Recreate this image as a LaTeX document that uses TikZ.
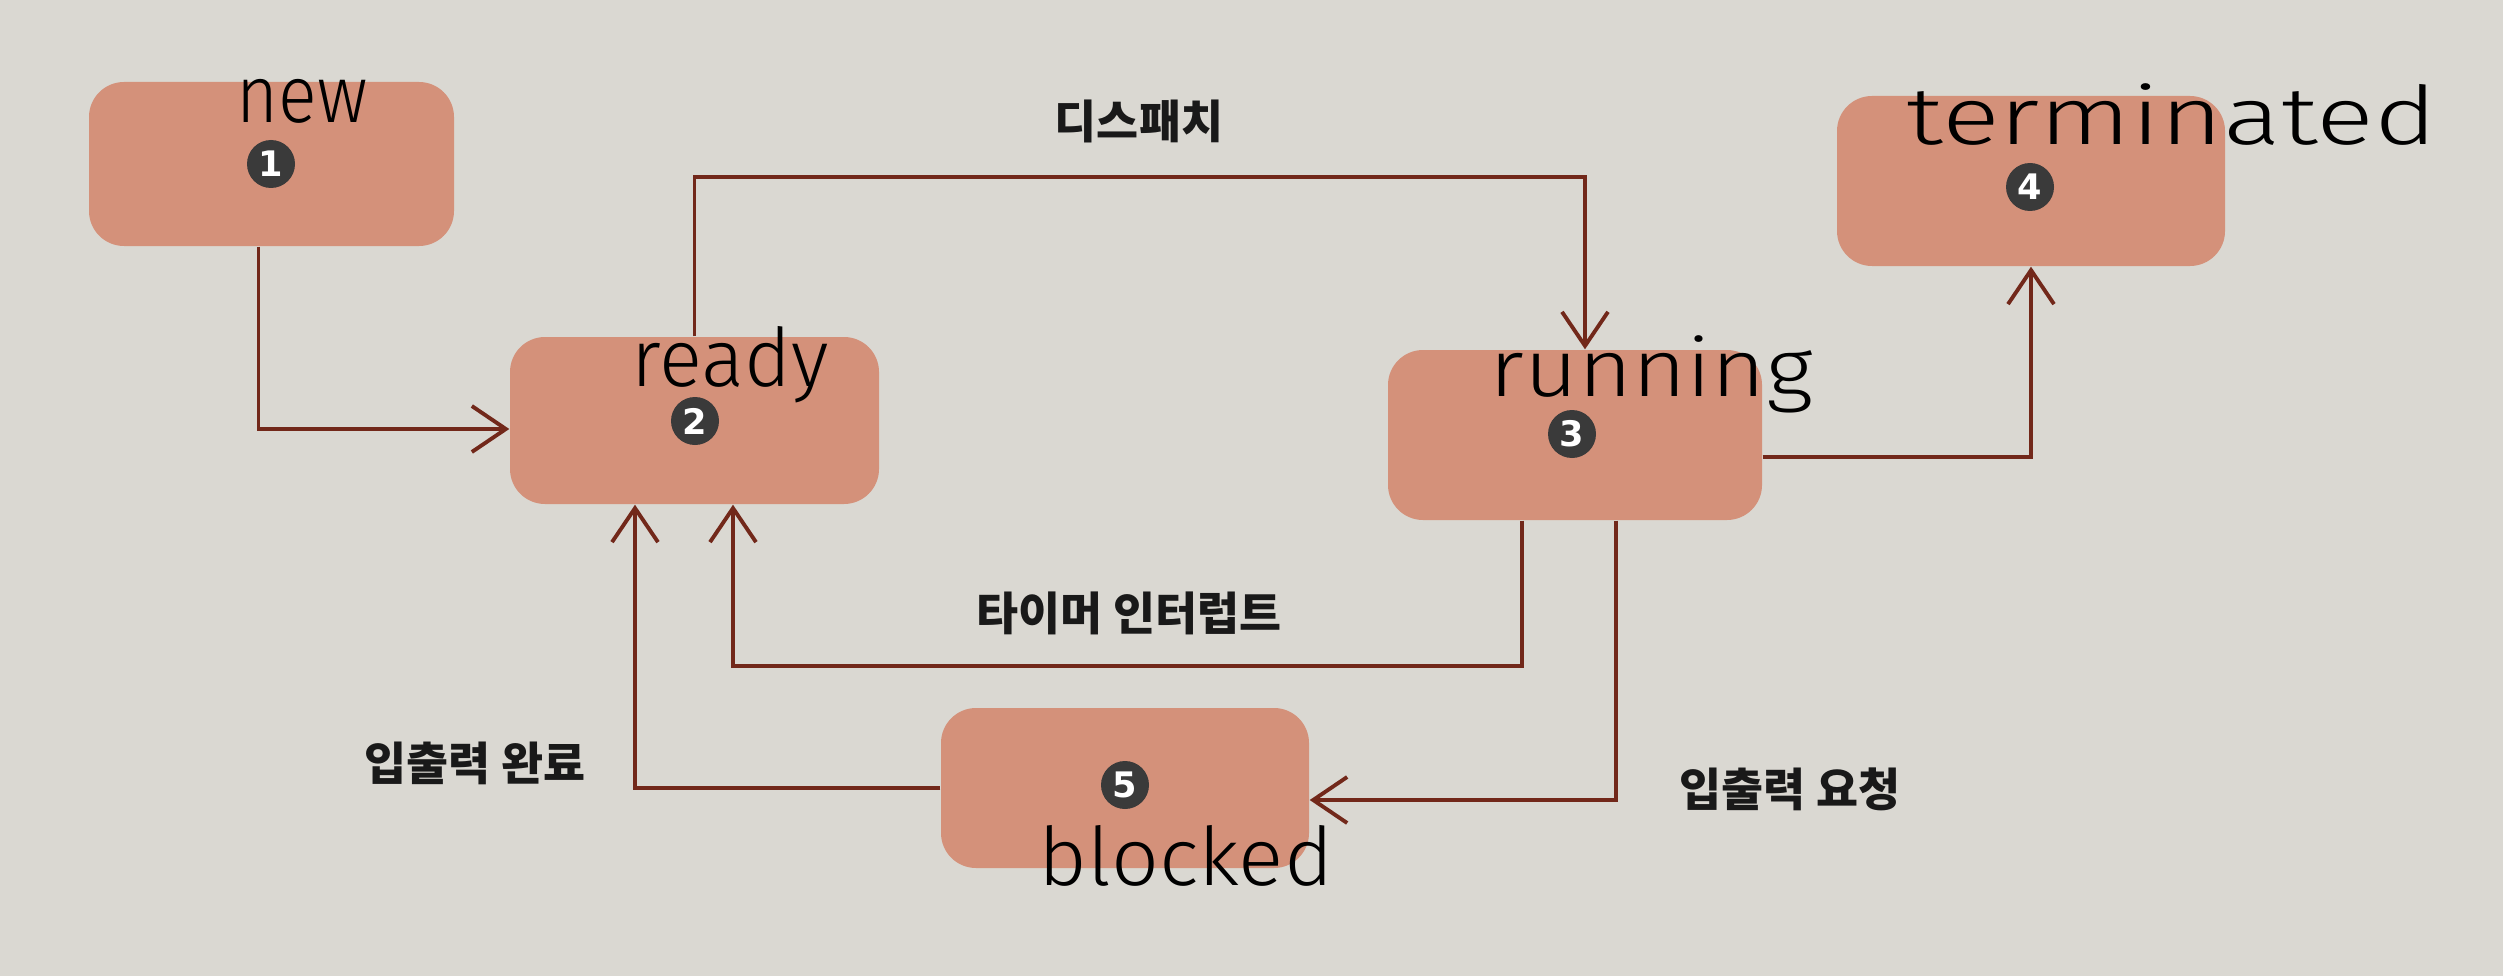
\documentclass[tikz,border=0pt]{standalone}
\usepackage{fontspec}
\newfontfamily\kr{Noto Sans CJK KR}
\newfontfamily\hand{Fira Sans Light}
\newfontfamily\numf{DejaVu Sans}
\usetikzlibrary{arrows.meta}
\definecolor{paper}{HTML}{DAD8D2}
\definecolor{boxc}{HTML}{D4917A}
\definecolor{linec}{HTML}{72281A}
\definecolor{circc}{HTML}{3A3A3A}
\tikzset{
  statebox/.style={rectangle, rounded corners=0.35cm, fill=boxc, draw=none, inner sep=0pt},
  numcirc/.style={circle, fill=circc, minimum size=0.48cm, inner sep=0pt, text=white, font=\numf\bfseries\fontsize{10}{12}\selectfont},
  handlab/.style={font=\hand\fontsize{23}{27}\selectfont, text=black, inner sep=0pt, anchor=base west},
  krlab/.style={font=\kr\bfseries\fontsize{13}{15}\selectfont, text=black!90, inner sep=0pt},
  conn/.style={draw=linec, line width=1.1pt, -{Straight Barb[length=0.34cm, width=0.46cm, line width=1.1pt]}}
}
\begin{document}
\begin{tikzpicture}
\fill[paper] (0,0) rectangle (25.03,-9.76);
\useasboundingbox (0,0) rectangle (25.03,-9.76);
% boxes
\node[statebox, minimum width=3.65cm, minimum height=1.64cm] (new) at (2.715,-1.64) {};
\node[statebox, minimum width=3.69cm, minimum height=1.67cm] (ready) at (6.945,-4.205) {};
\node[statebox, minimum width=3.74cm, minimum height=1.70cm] (running) at (15.75,-4.35) {};
\node[statebox, minimum width=3.88cm, minimum height=1.70cm] (terminated) at (20.31,-1.81) {};
\node[statebox, minimum width=3.68cm, minimum height=1.60cm] (blocked) at (11.25,-7.88) {};
% number circles
\node[numcirc] (c1) at (2.71,-1.64) {1};
\node[numcirc] (c2) at (6.95,-4.21) {2};
\node[numcirc] (c3) at (15.72,-4.34) {3};
\node[numcirc] (c4) at (20.30,-1.87) {4};
\node[numcirc] (c5) at (11.25,-7.85) {5};
% handwritten labels
\node[handlab] (lnew) at (2.36,-1.23) {\scalebox{0.89}[1]{new}};
\node[handlab] (lready) at (6.31,-3.86) {\scalebox{0.99}[1]{ready}};
\node[handlab] (lrunning) at (14.89,-3.96) {\scalebox{1.15}[1]{running}};
\node[handlab] (lterm) at (19.06,-1.45) {\scalebox{1.33}[1]{terminated}};
\node[handlab] (lblocked) at (10.38,-8.85) {\scalebox{1.04}[1]{blocked}};
% connectors
\draw[conn] ([xshift=-0.13cm]new.south) |- ([yshift=-0.085cm]ready.west);
\draw[conn] (ready.north) -- ++(0,1.59) -| ([xshift=0.1cm]running.north);
\draw[conn] ([yshift=-0.22cm]running.east) -| (terminated.south);
\draw[conn] ([xshift=-0.53cm]running.south) -- ++(0,-1.45) -| ([xshift=0.385cm]ready.south);
\draw[conn] ([xshift=0.41cm]running.south) |- ([yshift=-0.12cm]blocked.east);
\draw[conn] (blocked.west) -| ([xshift=-0.595cm]ready.south);
% Korean labels
\node[krlab] (k1) at (11.39,-1.21) {디스패치};
\node[krlab] (k2) at (11.29,-6.13) {타이머 인터럽트};
\node[krlab] (k3) at (4.75,-7.63) {입출력 완료};
\node[krlab] (k4) at (17.90,-7.89) {입출력 요청};
\end{tikzpicture}
\end{document}
